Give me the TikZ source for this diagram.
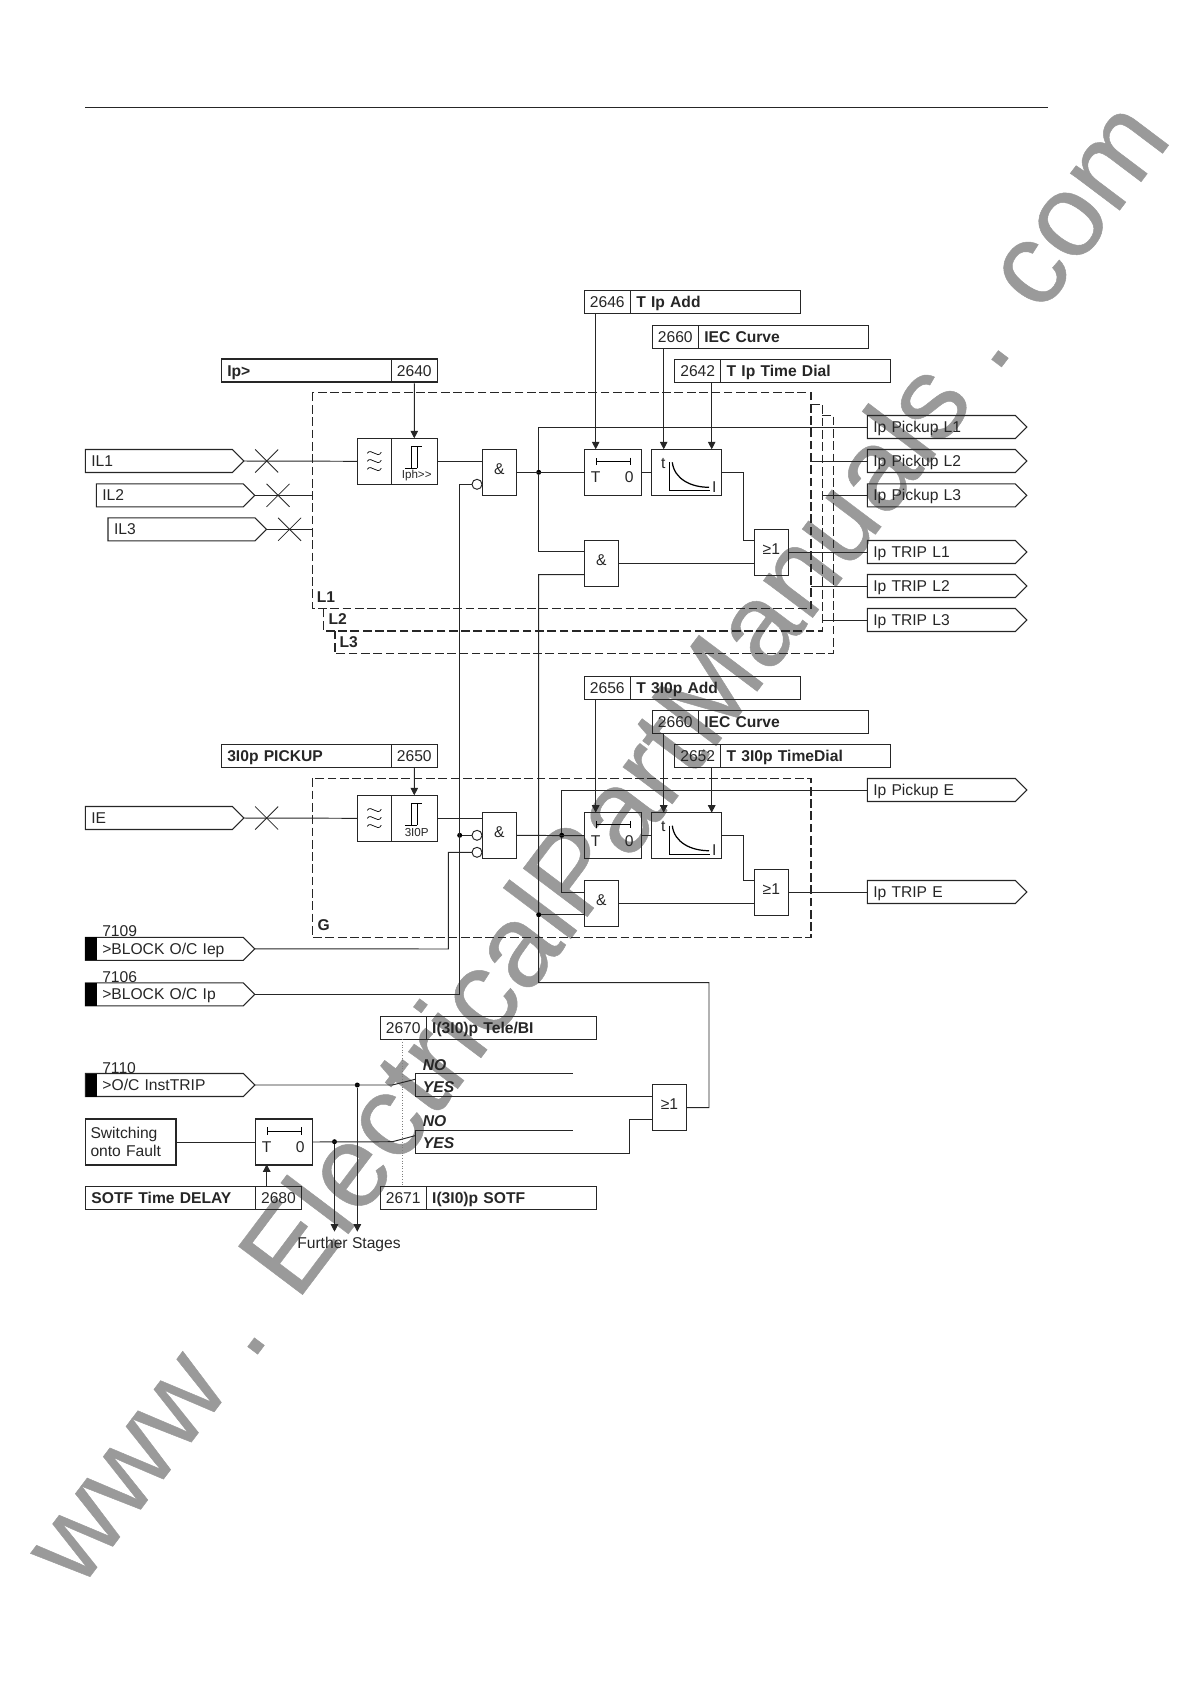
\documentclass[tikz,border=0pt]{standalone}
\usepackage{fontspec}
\setmainfont{Liberation Sans}
\newfontfamily\markfont[FakeBold=0.4]{Liberation Sans}
\usetikzlibrary{positioning,calc,arrows.meta,shapes.symbols,shapes.misc}
\definecolor{wirecolor}{HTML}{262626}
\definecolor{markcolor}{HTML}{9A9A9A}
\newcommand{\diagramfont}{\fontsize{8.9}{10.5}\selectfont}
\newcommand{\filterglyph}[1]{\begin{scope}[shift={(#1.center)}]
            \draw (-7,-8) .. controls (-3,-14) and (3,-2) .. (7,-9);
            \draw (-7,0) .. controls (-3,-6) and (3,6) .. (7,-1);
            \draw (-7,8) .. controls (-3,2) and (3,14) .. (7,7);
        \end{scope}}
\newcommand{\stepglyph}[1]{\begin{scope}[shift={(#1.center)}]
            \draw (-9.3,7)--(2.7,7);
            \draw (-3.3,7)--(-3.3,-15)--(7.4,-15);
            \draw (2.7,7)--(2.7,-15);
        \end{scope}}
\newcommand{\timerglyph}[1]{\begin{scope}[shift={(#1.north west)}]
            \draw [{Bar[width=1.5mm]}-{Bar[width=1.5mm]}] (11.4,12)--(46.4,12);
            \node (#1t) at (11.4,28) {T};
            \node (#1z) at (45,28) {0};
        \end{scope}}
\newcommand{\curveglyph}[1]{\begin{scope}[shift={(#1.north west)}]
            \draw (17.7,13)--(17.7,41.4)--(58.7,41.4);
            \draw [line width=0.7pt] (21,13) .. controls (23,30) and (40,38) .. (57.7,38);
            \node (#1t) at (12,14) {t};
            \node (#1i) at (63,37.4) {I};
        \end{scope}}
\tikzset{
    every node/.style={font=\diagramfont,inner sep=0pt,outer sep=0pt,text=wirecolor},
    wire/.style={draw=wirecolor,line width=0.55pt},
    drop/.style={wire,-{Triangle[length=1.5mm,width=1.5mm]}},
    phasebox/.style={draw=wirecolor,line width=0.6pt,dash pattern=on 5pt off 2pt},
    numcell/.style={draw=wirecolor,line width=0.65pt,minimum width=0.92cm,minimum height=0.46cm,text height=6.4pt,text depth=0pt},
    titlecell/.style={draw=wirecolor,line width=0.65pt,minimum height=0.46cm,text width=3.16cm,inner xsep=0.12cm,text height=6.4pt,text depth=0pt,font=\diagramfont\bfseries},
    gate/.style={draw=wirecolor,line width=0.65pt,minimum width=0.68cm,minimum height=0.92cm,text height=6.4pt,text depth=4pt},
    block/.style={draw=wirecolor,line width=0.65pt,minimum height=0.92cm},
    outsignal/.style={draw=wirecolor,line width=0.6pt,signal,signal to=east,signal from=nowhere,signal pointer angle=90,minimum height=0.46cm,inner xsep=0.12cm,text width=2.72cm,text height=6.4pt,text depth=0pt},
    insignal/.style={outsignal,text width=2.7cm},
    blocksignal/.style={outsignal,inner xsep=0.34cm,text width=2.48cm},
    blackmark/.style={fill=black,minimum width=0.23cm,minimum height=0.46cm},
    crossmark/.style={draw=wirecolor,line width=0.45pt,cross out,minimum width=0.46cm,minimum height=0.46cm},
    negmark/.style={draw=wirecolor,line width=0.55pt,circle,minimum size=0.2cm},
    joint/.style={circle,fill=black,minimum size=0.1cm},
    phaselabel/.style={font=\diagramfont\bfseries},
    choicelabel/.style={font=\diagramfont\bfseries\itshape},
    smalltag/.style={font=\fontsize{6.6}{8}\selectfont},
    watermark/.style={font=\markfont\fontsize{66.4}{70}\selectfont,text=markcolor,rotate=53}
}
\begin{document}
\begin{tikzpicture}[x=0.02cm,y=-0.02cm]
            \useasboundingbox (0,0) rectangle (1190,1684);
            \node [watermark] (www) at (593.3,839.5) {www . ElectricalPartManuals . com};
            \coordinate (ruleleft) at (85,107.4);
            \coordinate (ruleright) at (1048,107.4);
            \draw [wire] (ruleleft)--(ruleright);
            % phase part
            \draw [phasebox] (312.3,392.7) rectangle (811,608.3);
            \draw [phasebox] (811,404.3)--(822.3,404.3)--(822.3,631)--(323.7,631)--(323.7,608.3);
            \draw [phasebox] (822.3,415.7)--(833.7,415.7)--(833.7,653.7)--(335,653.7)--(335,631);
            \node [phaselabel] (labelone) at (326,596.7) {L1};
            \node [phaselabel] (labeltwo) at (337.7,619) {L2};
            \node [phaselabel] (labelthree) at (348.7,641.7) {L3};
            \node [titlecell,anchor=north west] (titlepickup) at (221.3,359) {Ip>};
            \node [numcell,right=0pt of titlepickup] (numpickup) {2640};
            \node [numcell,anchor=north west] (numadd) at (584.3,290.7) {2646};
            \node [titlecell,right=0pt of numadd] (titleadd) {T Ip Add};
            \node [numcell,anchor=north west] (numcurve) at (652.3,325.3) {2660};
            \node [titlecell,right=0pt of numcurve] (titlecurve) {IEC Curve};
            \node [numcell,anchor=north west] (numdial) at (674.7,359.3) {2642};
            \node [titlecell,right=0pt of numdial] (titledial) {T Ip Time Dial};
            \node [insignal,anchor=west] (inone) at (85.3,461) {IL1};
            \node [insignal,anchor=west] (intwo) at (96.3,495.3) {IL2};
            \node [insignal,anchor=west] (inthree) at (108,529.3) {IL3};
            \node [crossmark] (crossone) at (266.7,461) {};
            \node [crossmark] (crosstwo) at (278,495.3) {};
            \node [crossmark] (crossthree) at (289.6,529.3) {};
            \coordinate (bustwo) at (312.3,495.3);
            \coordinate (busthree) at (312.3,529.3);
            \node [block,minimum width=0.68cm,anchor=north west] (filterA) at (357.3,438.3) {};
            \node [block,minimum width=0.92cm,right=0pt of filterA] (stepA) {};
            \filterglyph{filterA}
            \stepglyph{stepA}
            \node [smalltag] (tagA) at (416.7,475.3) {Iph>{}>};
            \node [gate,anchor=north west] (andA) at (482.3,449.3) {\&};
            \node [negmark] (negA) at (477,484.3) {};
            \node [block,minimum width=1.14cm,anchor=north west] (timerA) at (584.3,449.3) {};
            \node [block,minimum width=1.4cm,anchor=north west] (curveA) at (651.3,449.3) {};
            \timerglyph{timerA}
            \curveglyph{curveA}
            \node [gate,anchor=north west] (andB) at (584.3,540.7) {\&};
            \node [gate,anchor=north west] (orA) at (754.3,529.3) {≥1};
            \node [joint] (jointA) at (538.7,472.3) {};
            \node [outsignal,anchor=west] (pickone) at (867.3,427) {Ip Pickup L1};
            \node [outsignal,anchor=west] (picktwo) at (867.3,461) {Ip Pickup L2};
            \node [outsignal,anchor=west] (pickthree) at (867.3,495.3) {Ip Pickup L3};
            \node [outsignal,anchor=west] (tripone) at (867.3,552) {Ip TRIP L1};
            \node [outsignal,anchor=west] (triptwo) at (867.3,586) {Ip TRIP L2};
            \node [outsignal,anchor=west] (tripthree) at (867.3,620) {Ip TRIP L3};
            \coordinate (setadd) at (595.7,449.3);
            \coordinate (setcurve) at (663.7,449.3);
            \coordinate (setdial) at (711.7,449.3);
            \coordinate (toppick) at (538.7,427);
            \coordinate (andBup) at (584.3,551.7);
            \coordinate (andBdown) at (584.3,574.7);
            \coordinate (orAup) at (754.3,540.7);
            \coordinate (kneeA) at (743.3,540.7);
            \coordinate (picktwofrom) at (811,461);
            \coordinate (pickthreefrom) at (822.3,495.3);
            \coordinate (triptwofrom) at (811,586);
            \coordinate (tripthreefrom) at (822.3,620);
            \draw [drop] (numpickup.south)--(stepA.north);
            \draw [drop] (numadd.south -| setadd)--(setadd);
            \draw [drop] (numcurve.south -| setcurve)--(setcurve);
            \draw [drop] (numdial.south -| setdial)--(setdial);
            \draw [wire] (inone.east)--(filterA.west);
            \draw [wire] (intwo.east)--(bustwo);
            \draw [wire] (inthree.east)--(busthree);
            \draw [wire] (stepA.east)--(andA.west |- stepA.east);
            \draw [wire] (andA.east)--(timerA.west);
            \draw [wire] (timerA.east)--(curveA.west);
            \draw [wire] (curveA.east) -| (kneeA)--(orAup);
            \draw [wire] (andB.east)--(orA.west |- andB.east);
            \draw [wire] (orA.east |- tripone.west)--(tripone.west);
            \draw [wire] (toppick)--(pickone.west);
            \draw [wire] (toppick)--(jointA)--(andBup -| jointA)--(andBup);
            \draw [wire] (picktwofrom)--(picktwo.west);
            \draw [wire] (pickthreefrom)--(pickthree.west);
            \draw [wire] (triptwofrom)--(triptwo.west);
            \draw [wire] (tripthreefrom)--(tripthree.west);
            % earth part
            \draw [phasebox] (312.3,778.3) rectangle (811,937.3);
            \node [phaselabel] (labelearth) at (323.7,925) {G};
            \node [titlecell,anchor=north west] (titleearth) at (221.3,744.3) {3I0p PICKUP};
            \node [numcell,right=0pt of titleearth] (numearth) {2650};
            \node [numcell,anchor=north west] (numeadd) at (584.3,676.7) {2656};
            \node [titlecell,right=0pt of numeadd] (titleeadd) {T 3I0p Add};
            \node [numcell,anchor=north west] (numecurve) at (652.3,710.7) {2660};
            \node [titlecell,right=0pt of numecurve] (titleecurve) {IEC Curve};
            \node [numcell,anchor=north west] (numedial) at (674.7,744.7) {2652};
            \node [titlecell,right=0pt of numedial] (titleedial) {T 3I0p TimeDial};
            \node [insignal,anchor=west] (inearth) at (85.3,818) {IE};
            \node [crossmark] (crossearth) at (266.7,818) {};
            \node [block,minimum width=0.68cm,anchor=north west] (filterE) at (357.3,795.3) {};
            \node [block,minimum width=0.92cm,right=0pt of filterE] (stepE) {};
            \filterglyph{filterE}
            \stepglyph{stepE}
            \node [smalltag] (tagE) at (416.7,832) {3I0P};
            \node [gate,anchor=north west] (andE) at (482.3,812.3) {\&};
            \node [negmark] (negEup) at (477,835.3) {};
            \node [negmark] (negEdown) at (477,852.3) {};
            \node [joint] (jointblock) at (459.7,835.3) {};
            \node [block,minimum width=1.14cm,anchor=north west] (timerE) at (584.3,812.7) {};
            \node [block,minimum width=1.4cm,anchor=north west] (curveE) at (651.3,812.7) {};
            \timerglyph{timerE}
            \curveglyph{curveE}
            \node [gate,anchor=north west] (andF) at (584.3,880.7) {\&};
            \node [gate,anchor=north west] (orE) at (754.3,869.3) {≥1};
            \node [joint] (jointE) at (561.7,835.3) {};
            \node [joint] (jointF) at (538.7,914.7) {};
            \node [outsignal,anchor=west] (pickearth) at (867.3,790) {Ip Pickup E};
            \node [outsignal,anchor=west] (tripearth) at (867.3,892) {Ip TRIP E};
            \node [blocksignal,anchor=west] (blockiep) at (85.3,948.8) {>BLOCK O/C Iep};
            \node [blackmark,anchor=west] (markiep) at (85.3,948.8) {};
            \node [anchor=west] (codeiep) at (102.3,931.3) {7109};
            \node [blocksignal,anchor=west] (blockip) at (85.3,994.3) {>BLOCK O/C Ip};
            \node [blackmark,anchor=west] (markip) at (85.3,994.3) {};
            \node [anchor=west] (codeip) at (102.3,976.7) {7106};
            \coordinate (seteadd) at (595.7,812.7);
            \coordinate (setecurve) at (663.7,812.7);
            \coordinate (setedial) at (711.7,812.7);
            \coordinate (toppickE) at (561.7,790);
            \coordinate (andFup) at (584.3,892);
            \coordinate (andFdown) at (584.3,914.7);
            \coordinate (orEup) at (754.3,880.7);
            \coordinate (kneeE) at (743.3,880.7);
            \coordinate (iepknee) at (448.3,949);
            \coordinate (iepup) at (448.3,852.3);
            \coordinate (ipknee) at (459.7,994.3);
            \coordinate (negAknee) at (459.7,484.3);
            \draw [drop] (numearth.south)--(stepE.north);
            \draw [drop] (numeadd.south -| seteadd)--(seteadd);
            \draw [drop] (numecurve.south -| setecurve)--(setecurve);
            \draw [drop] (numedial.south -| setedial)--(setedial);
            \draw [wire] (inearth.east)--(filterE.west);
            \draw [wire] (stepE.east)--(andE.west |- stepE.east);
            \draw [wire] (andE.east)--(timerE.west);
            \draw [wire] (timerE.east)--(curveE.west);
            \draw [wire] (curveE.east) -| (kneeE)--(orEup);
            \draw [wire] (andF.east)--(orE.west |- andF.east);
            \draw [wire] (orE.east |- tripearth.west)--(tripearth.west);
            \draw [wire] (toppickE)--(pickearth.west);
            \draw [wire] (toppickE)--(jointE)--(andFup -| jointE)--(andFup);
            \draw [wire] (jointF)--(andFdown);
            \draw [wire] (blockiep.east)--(iepknee)--(iepup)--(negEdown.west);
            \draw [wire] (jointblock)--(negEup.west);
            \draw [wire] (blockip.east)--(ipknee)--(negAknee)--(negA.west);
            % tele and sotf part
            \node [numcell,anchor=north west] (numtele) at (380.2,1016.7) {2670};
            \node [titlecell,right=0pt of numtele] (titletele) {I(3I0)p Tele/BI};
            \node [numcell,anchor=north west] (numsotf) at (380.2,1186.7) {2671};
            \node [titlecell,right=0pt of numsotf] (titlesotf) {I(3I0)p SOTF};
            \node [titlecell,anchor=north west] (titledelay) at (85.5,1186.7) {SOTF Time DELAY};
            \node [numcell,right=0pt of titledelay] (numdelay) {2680};
            \node [blocksignal,anchor=west] (insttrip) at (85.5,1085) {>O/C InstTRIP};
            \node [blackmark,anchor=west] (markinst) at (85.5,1085) {};
            \node [anchor=west] (codeinst) at (102.3,1067.7) {7110};
            \node [block,minimum width=1.81cm,anchor=north west,align=left,text width=1.61cm,inner xsep=0.1cm] (switchon) at (85.5,1119) {Switching\\onto Fault};
            \node [block,minimum width=1.14cm,anchor=north west] (timerS) at (255.3,1119) {};
            \timerglyph{timerS}
            \node [gate,anchor=north west] (orS) at (652.4,1084.7) {≥1};
            \node [joint] (jointinst) at (357.3,1085) {};
            \node [joint] (jointsotf) at (334.5,1141.7) {};
            \node [anchor=north] (further) at (349,1237) {Further Stages};
            \node [choicelabel] (noone) at (434.5,1064.7) {NO};
            \node [choicelabel] (yesone) at (438.6,1086.7) {YES};
            \node [choicelabel] (notwo) at (434.5,1121.3) {NO};
            \node [choicelabel] (yestwo) at (438.6,1143.3) {YES};
            \coordinate (contactoneup) at (415,1073.3);
            \coordinate (contactonedown) at (415,1096.3);
            \coordinate (contactonearm) at (415,1079.3);
            \coordinate (pivotone) at (392.4,1085);
            \coordinate (nooneend) at (573.3,1073.3);
            \coordinate (contacttwoup) at (415,1130);
            \coordinate (contacttwodown) at (415,1153);
            \coordinate (contacttwoarm) at (415,1135.7);
            \coordinate (pivottwo) at (392.4,1141.7);
            \coordinate (notwoend) at (573.3,1130);
            \coordinate (yesknee) at (629.6,1153);
            \coordinate (orSdown) at (652.4,1119);
            \coordinate (orSup) at (652.4,1096.3);
            \coordinate (stagesone) at (334.5,1231.7);
            \coordinate (stagestwo) at (357.3,1231.7);
            \coordinate (delayup) at (266.7,1186.7);
            \coordinate (delaytop) at (266.7,1164.3);
            \coordinate (orSknee) at (709,1107.7);
            \coordinate (returntop) at (709,982.7);
            \coordinate (returnleft) at (538.7,982.7);
            \draw [draw=gray,densely dotted,line width=0.5pt] (402.7,1039.3)--(402.7,1186.7);
            \draw [wire] (insttrip.east)--(pivotone)--(contactonearm);
            \draw [wire] (contactoneup)--(contactonedown)--(orSup);
            \draw [wire] (contactoneup)--(nooneend);
            \draw [wire] (switchon.east)--(timerS.west);
            \draw [wire] (timerS.east)--(pivottwo)--(contacttwoarm);
            \draw [wire] (contacttwoup)--(contacttwodown)--(yesknee)--(orSdown -| yesknee)--(orSdown);
            \draw [wire] (contacttwoup)--(notwoend);
            \draw [drop] (jointinst)--(stagestwo);
            \draw [drop] (jointsotf)--(stagesone);
            \draw [drop] (delayup)--(delaytop);
            \draw [wire] (orS.east)--(orSknee)--(returntop)--(returnleft)--(jointF)--(andBdown -| returnleft)--(andBdown);
        \end{tikzpicture}
\end{document}
